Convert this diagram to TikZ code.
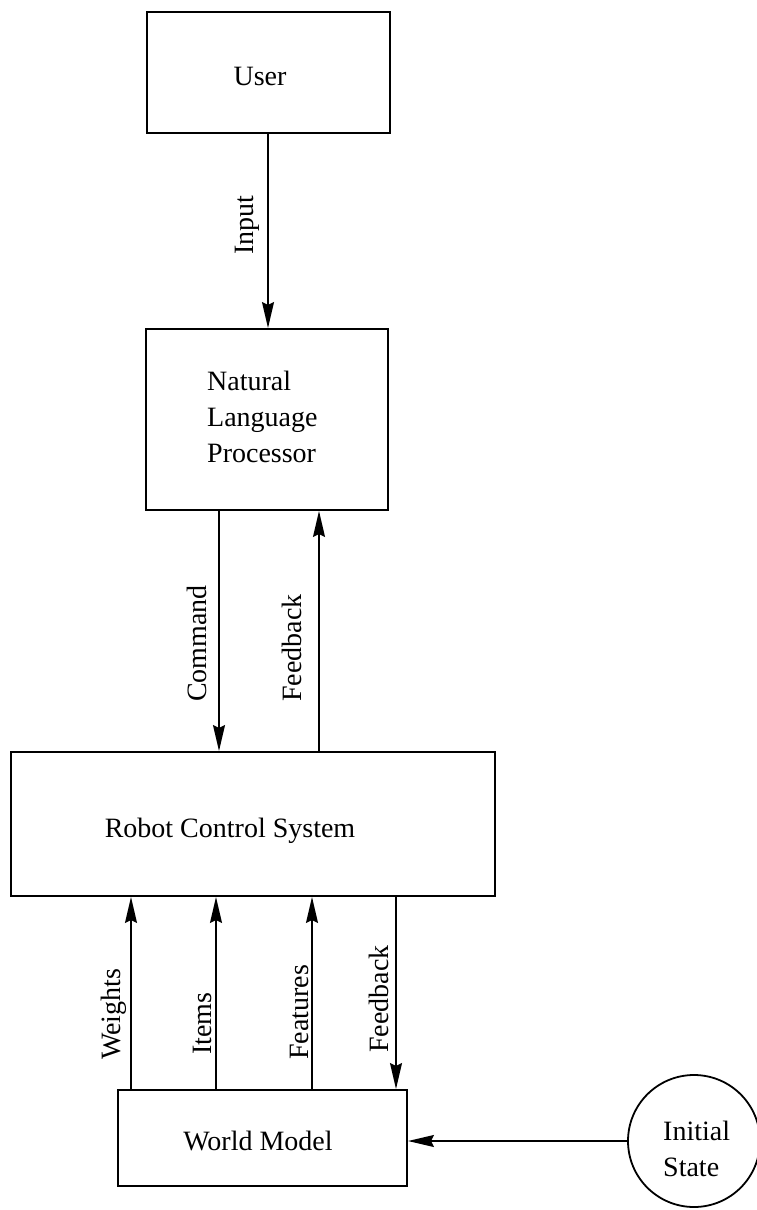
\documentclass[tikz,border=0pt]{standalone}
\usepackage{fontspec}
\setmainfont{Liberation Serif}
\usetikzlibrary{arrows.meta}
\begin{document}
\begin{tikzpicture}[x=1pt,y=-1pt,
  box/.style={draw,line width=2pt,rectangle,inner sep=0pt},
  txt/.style={inner sep=0pt,font=\fontsize{28}{36}\selectfont},
  vlab/.style={inner sep=0pt,rotate=90,anchor=base west,font=\fontsize{28}{36}\selectfont},
  arr/.style={line width=1.6pt,-{Stealth[length=26pt,width=12pt,inset=3pt]}}]
\useasboundingbox (0,0) rectangle (757,1210);
% boxes
\node[box,minimum width=243pt,minimum height=121pt] (user) at (268.5,72.5) {};
\node[box,minimum width=242pt,minimum height=181pt] (nlp) at (267,419.5) {};
\node[box,minimum width=484pt,minimum height=144pt] (rcs) at (253,824) {};
\node[box,minimum width=289pt,minimum height=96pt] (wm) at (262.5,1138) {};
\node[draw,line width=1.8pt,circle,minimum size=132pt,inner sep=0pt] (init) at (694,1141) {};
% texts
\node[txt,anchor=base] (tuser) at (260,85) {User};
\node[txt,anchor=north west,align=left] (tnlp) at (207,371) {Natural\\Language\\Processor};
\node[txt,anchor=base] (trcs) at (230,837) {Robot Control System};
\node[txt,anchor=base] (twm) at (258,1150) {World Model};
\node[txt,anchor=north west,align=left] (tinit) at (663,1121) {Initial\\State};
% x positions of connectors
\coordinate (xin) at (268,0);
\coordinate (xcmd) at (219,0);
\coordinate (xfb) at (319,0);
\coordinate (xw) at (131,0);
\coordinate (xi) at (216,0);
\coordinate (xf) at (312,0);
\coordinate (xfb2) at (396,0);
% connectors
\draw[arr] (user.south -| xin) -- (nlp.north -| xin);
\draw[arr] (nlp.south -| xcmd) -- (rcs.north -| xcmd);
\draw[arr] (rcs.north -| xfb) -- (nlp.south -| xfb);
\draw[arr] (wm.north -| xw) -- (rcs.south -| xw);
\draw[arr] (wm.north -| xi) -- (rcs.south -| xi);
\draw[arr] (wm.north -| xf) -- (rcs.south -| xf);
\draw[arr] (rcs.south -| xfb2) -- (wm.north -| xfb2);
\draw[arr] (init.west) -- (init.west -| wm.east);
% labels
\node[vlab] (linput) at (253.5,255) {Input};
\node[vlab] (lcmd) at (206,702) {Command};
\node[vlab] (lfb) at (301,702) {Feedback};
\node[vlab] (lw) at (120.5,1060) {Weights};
\node[vlab] (li) at (211.5,1055) {Items};
\node[vlab] (lf) at (308,1060) {Features};
\node[vlab] (lfb2) at (388,1053) {Feedback};
\end{tikzpicture}
\end{document}
